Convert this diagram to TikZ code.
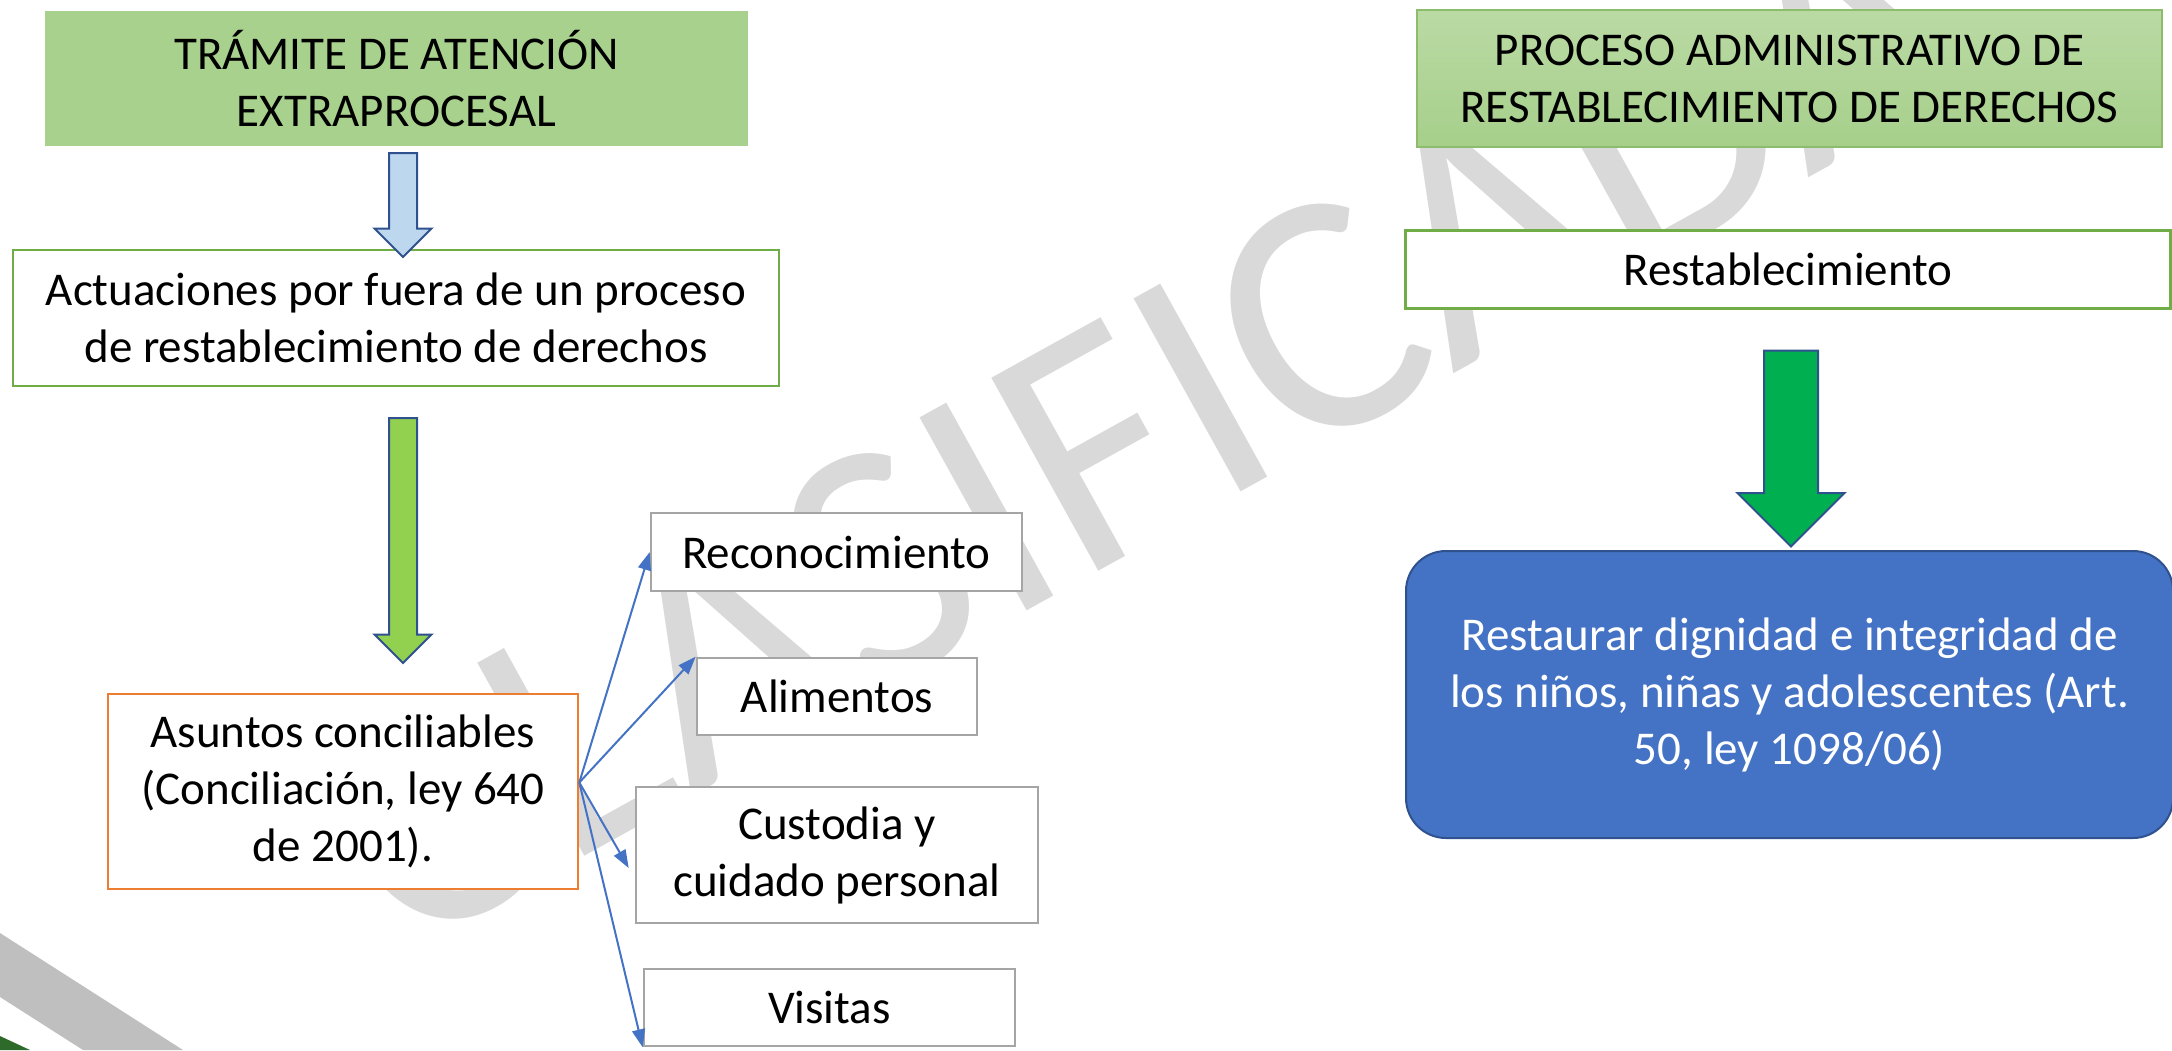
\documentclass[tikz,border=0pt]{standalone}
\usepackage{fontspec}
\setmainfont{Carlito}
\usetikzlibrary{shapes.arrows,arrows.meta,calc}
\definecolor{titlegreen}{HTML}{A9D18E}
\definecolor{boxgreen}{HTML}{70AD47}
\definecolor{boxorange}{HTML}{ED7D31}
\definecolor{boxgray}{HTML}{A5A5A5}
\definecolor{linkblue}{HTML}{4472C4}
\definecolor{edgeblue}{HTML}{2F528F}
\definecolor{paleblue}{HTML}{BDD7EE}
\definecolor{leafgreen}{HTML}{92D050}
\definecolor{brightgreen}{HTML}{00B050}
\definecolor{darkgreen}{HTML}{2E6B2A}
\begin{document}
\begin{tikzpicture}[x=0.5pt,y=-0.5pt,
        every node/.style={font=\fontsize{23.5}{28.5}\selectfont,align=center,inner sep=0pt},
        sized/.style 2 args={minimum width=#1pt,minimum height=#2pt},
        greenbox/.style={draw=boxgreen,line width=1.3pt,fill=white},
        orangebox/.style={draw=boxorange,line width=1.3pt,fill=white},
        graybox/.style={draw=boxgray,line width=1.3pt,fill=white},
        blockdown/.style={single arrow,draw=edgeblue,line width=1pt,shape border rotate=270,single arrow tip angle=90},
        link/.style={draw=linkblue,line width=1pt,-{Triangle[length=9pt,width=6.5pt]}}]
        \useasboundingbox (0,0) rectangle (2172,1050);
        \fill[black!25] (0,933) -- (183,1050) -- (83,1050) -- (0,997) -- cycle;
        \fill[darkgreen] (0,1036) -- (30,1050) -- (0,1050) -- cycle;
        \node[rotate=29,anchor=base,align=none,text=black!15,font=\fontsize{172}{172}\selectfont] (mark) at (1193,519) {CLASIFICADA};

        \node[fill=titlegreen,sized={351.5}{67.5}] (tit1) at (396.5,78.5) {TRÁMITE DE ATENCIÓN\\EXTRAPROCESAL};
        \node[greenbox,sized={383}{68}] (act) at (396,318) {Actuaciones por fuera de un proceso\\de restablecimiento de derechos};
        \node[orangebox,sized={235}{97.5}] (asu) at (343,791.5) {Asuntos conciliables\\(Conciliación, ley 640\\de 2001).};
        \node[graybox,sized={185.5}{39}] (rec) at (836.5,552) {Reconocimiento};
        \node[graybox,sized={140}{38.5}] (ali) at (837,696.5) {Alimentos};
        \node[graybox,sized={201}{68}] (cus) at (837,855) {Custodia y\\cuidado personal};
        \node[graybox,sized={185.5}{38.5}] (vis) at (829.5,1007.5) {Visitas};

        \node[blockdown,fill=paleblue,sized={27.5}{52},inner sep=6.5pt,single arrow head extend=7.25pt] (a1) at (403,198) {};
        \node[blockdown,fill=leafgreen,sized={27.5}{122.5},inner sep=6.5pt,single arrow head extend=7.25pt] (a2) at (403,533.5) {};

        \node[draw=boxgreen!80,line width=0.8pt,top color=titlegreen!80!white,bottom color=titlegreen!95!boxgreen,sized={372.5}{68.5}] (tit2) at (1789.5,78.5) {PROCESO ADMINISTRATIVO DE\\RESTABLECIMIENTO DE DERECHOS};
        \node[greenbox,sized={382.5}{39}] (res) at (1788,269.5) {Restablecimiento};
        \node[blockdown,fill=brightgreen,sized={52.5}{98},inner sep=13pt,single arrow head extend=13.25pt] (a3) at (1791,435) {};
        \node[draw=edgeblue,line width=1pt,fill=linkblue,rounded corners=20pt,text=white,sized={383.5}{143.5}] (goal) at (1789.5,694.5) {Restaurar dignidad e integridad de\\los niños, niñas y adolescentes (Art.\\50, ley 1098/06)};

        \coordinate (fan) at ($(asu.east)+(0,-9)$);
        \draw[link] (fan) -- (rec.west);
        \draw[link] (fan) -- (ali.north west);
        \draw[link] (fan) -- ($(cus.west)+(-6,13)$);
        \draw[link] (fan) -- (vis.south west);
    \end{tikzpicture}
\end{document}
